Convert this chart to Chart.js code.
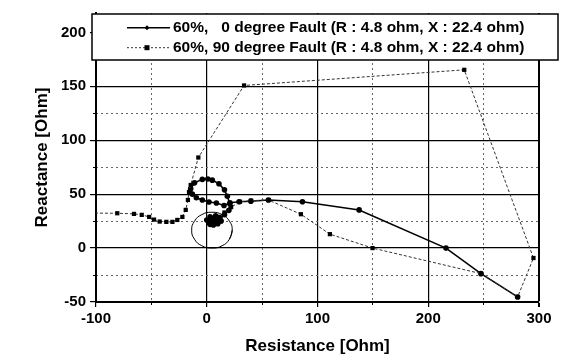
<!DOCTYPE html>
<html>
<head>
<meta charset="utf-8">
<script src="https://cdn.jsdelivr.net/npm/chart.js@4.4.1/dist/chart.umd.min.js"></script>
<style>
  body { margin: 0; background: #fff; }
  #wrap { width: 563px; height: 359px; }
</style>
</head>
<body>
<div id="wrap"><canvas id="myChart" width="563" height="359"></canvas></div>
<script>
// impedance trajectories (R, X in ohm)
var fault0Deg = [
  {x: 280.7, y: -45.3}, {x: 247.6, y: -23.7}, {x: 216, y: 0}, {x: 137.6, y: 35.4},
  {x: 86.4, y: 43}, {x: 55.7, y: 44.6}, {x: 39.8, y: 43.5}, {x: 29.2, y: 43},
  {x: 21, y: 42}, {x: 15.6, y: 39.5}, {x: 8.7, y: 41.8}, {x: 2, y: 42.8},
  {x: -4, y: 44.6}, {x: -9.4, y: 46.7}, {x: -13, y: 50}, {x: -14.5, y: 55},
  {x: -11, y: 60.5}, {x: -4, y: 63.7}, {x: 1, y: 64}, {x: 5, y: 63},
  {x: 11, y: 59.7}, {x: 16, y: 54}, {x: 18.6, y: 48}, {x: 20.8, y: 41},
  {x: 20, y: 35}, {x: 16, y: 31}, {x: 11, y: 28}, {x: 7, y: 26},
  {x: 3, y: 22}, {x: 6, y: 21.5}, {x: 10, y: 22.5}, {x: 13, y: 25},
  {x: 12, y: 28}, {x: 8, y: 30}, {x: 3, y: 29}, {x: 0, y: 26},
  {x: 2, y: 23.5}, {x: 6, y: 24}, {x: 9, y: 26}, {x: 6, y: 27}, {x: 4, y: 26}
];

var fault90Deg = [
  {x: -110, y: 32.5}, {x: -80.8, y: 32.3}, {x: -65.7, y: 31.7}, {x: -58.7, y: 30.8},
  {x: -52, y: 28.9}, {x: -47.6, y: 26.4}, {x: -42.5, y: 24.6}, {x: -36.5, y: 24.3},
  {x: -31, y: 24.3}, {x: -26.6, y: 26.1}, {x: -22, y: 28.9}, {x: -19, y: 35.4},
  {x: -17, y: 44.6}, {x: -16, y: 52}, {x: -14.5, y: 58.5}, {x: -7.6, y: 84},
  {x: 33.7, y: 150.8}, {x: 232.5, y: 165.3}, {x: 295, y: -9.2}, {x: 280.7, y: -45.3},
  {x: 247.6, y: -23.7}, {x: 149.7, y: 0}, {x: 111.2, y: 12.9}, {x: 85, y: 31.4},
  {x: 55.7, y: 44.6}, {x: 40, y: 44}, {x: 30, y: 43}, {x: 22, y: 38},
  {x: 16, y: 33}, {x: 11, y: 29}, {x: 7, y: 27}, {x: 4, y: 25}
];

// relay characteristic circle
var mhoCircle = [
  {x: 20.5, y: 8.3}, {x: 23.0, y: 16.6}, {x: 20.5, y: 24.9}, {x: 13.9, y: 31.0},
  {x: 4.7, y: 33.2}, {x: -4.5, y: 31.0}, {x: -11.1, y: 24.9}, {x: -13.6, y: 16.6},
  {x: -11.1, y: 8.3}, {x: -4.5, y: 2.2}, {x: 4.7, y: 0}, {x: 13.9, y: 2.2},
  {x: 20.5, y: 8.3}, {x: 23.0, y: 16.6}
];

var legendLabels = [
  ['60%,', '0 degree Fault (R : 4.8 ohm, X : 22.4 ohm)'],
  ['60%,', '90 degree Fault (R : 4.8 ohm, X : 22.4 ohm)']
];

var xTitle = 'Resistance [Ohm]';
var yTitle = 'Reactance [Ohm]';

var fontFam = "'Liberation Sans', Arial, sans-serif";
Chart.defaults.font.family = fontFam;
Chart.defaults.font.weight = 'bold';
Chart.defaults.color = '#000';

// legend box drawn over the top of the plot
var boxLegend = {
  id: 'boxLegend',
  afterDraw: function (chart) {
    var c = chart.ctx;
    var a = chart.chartArea;
    var left = a.left - 4, top = a.top + 1, right = 558, bottom = 60;
    c.save();
    c.fillStyle = '#fff';
    c.fillRect(left, top, right - left, bottom - top);
    c.strokeStyle = '#000';
    c.lineWidth = 1.5;
    c.strokeRect(left, top, right - left, bottom - top);

    var rows = [top + 13.7, top + 33.7];
    c.font = 'bold 15.5px ' + fontFam;
    c.textBaseline = 'middle';
    c.fillStyle = '#000';
    for (var i = 0; i < 2; i++) {
      var y = rows[i];
      c.strokeStyle = i === 0 ? '#000' : '#333';
      c.lineWidth = i === 0 ? 1.6 : 1;
      c.setLineDash(i === 0 ? [] : [2, 2]);
      c.beginPath();
      c.moveTo(127, y);
      c.lineTo(170, y);
      c.stroke();
      c.setLineDash([]);
      if (i === 0) {
        c.beginPath();
        c.moveTo(147, y - 2.5); c.lineTo(149.5, y); c.lineTo(147, y + 2.5); c.lineTo(144.5, y);
        c.closePath();
        c.fill();
      } else {
        c.fillRect(144.5, y - 2.5, 5, 5);
      }
      var tx = 173;
      c.fillText(legendLabels[i][0], tx, y);
      c.fillText(legendLabels[i][1], tx + c.measureText('60%, ' + (i === 0 ? '9' : '')).width, y);
    }
    c.restore();
  }
};

var tickFont = {size: 15, family: fontFam, weight: 'bold'};
var titleFont = {size: 17, family: fontFam, weight: 'bold'};

var ctx = document.getElementById('myChart');
var myChart = new Chart(ctx, {
  type: 'scatter',
  data: {
    datasets: [
      {
        label: 'circle',
        data: mhoCircle,
        xAxisID: 'x', yAxisID: 'y',
        showLine: true,
        borderColor: '#000',
        borderWidth: 1,
        pointRadius: 0,
        tension: 0.5
      },
      {
        label: legendLabels[1].join(' '),
        data: fault90Deg,
        xAxisID: 'x', yAxisID: 'y',
        showLine: true,
        borderColor: '#333',
        borderWidth: 1,
        borderDash: [3, 2],
        pointStyle: 'rect',
        pointRadius: function (c) { return c.raw && c.raw.x <= -100 ? 0 : 3; },
        pointBackgroundColor: '#000',
        pointBorderColor: '#000',
        pointBorderWidth: 0
      },
      {
        label: legendLabels[0].join(' '),
        data: fault0Deg,
        xAxisID: 'x', yAxisID: 'y',
        showLine: true,
        borderColor: '#000',
        borderWidth: 1.6,
        pointStyle: 'circle',
        pointRadius: 2.8,
        pointBackgroundColor: '#000',
        pointBorderColor: '#000',
        pointBorderWidth: 0
      }
    ]
  },
  options: {
    responsive: false,
    animation: false,
    layout: {padding: {top: 12, right: 24, left: 0, bottom: 0}},
    plugins: {
      legend: {display: false},
      tooltip: {enabled: false}
    },
    scales: {
      x: {
        type: 'linear', position: 'bottom', weight: 0,
        min: -100, max: 300,
        ticks: {stepSize: 100, font: tickFont, color: '#000', padding: 3},
        grid: {
          color: '#000',
          lineWidth: function (c) { return c.tick && c.tick.value === 300 ? 2 : 1.2; },
          tickLength: 5, tickColor: '#000'
        },
        border: {color: '#000', width: 2},
        title: {display: true, text: xTitle, color: '#000', font: titleFont, padding: {top: 0, bottom: 2}},
        afterFit: function (s) { s.height = 57; }
      },
      x2: {
        type: 'linear', position: 'bottom', weight: -1,
        min: -100, max: 300,
        ticks: {display: false, stepSize: 50},
        grid: {
          color: function (c) { return c.tick && c.tick.value % 100 === 0 ? 'rgba(0,0,0,0)' : '#666'; },
          tickColor: function (c) { return c.tick && c.tick.value % 100 === 0 ? 'rgba(0,0,0,0)' : '#000'; },
          tickLength: 3
        },
        border: {display: false, dash: [2, 3]},
        afterFit: function (s) { s.height = 0; }
      },
      y: {
        type: 'linear', position: 'left', weight: 0,
        min: -50, max: 218,
        ticks: {stepSize: 50, includeBounds: false, font: tickFont, color: '#000', padding: 4},
        grid: {color: '#000', lineWidth: 1.2, tickLength: 6, tickColor: '#000'},
        border: {color: '#000', width: 2},
        title: {display: true, text: yTitle, color: '#000', font: titleFont, padding: {top: 32, bottom: 0}},
        afterFit: function (s) { s.width = 96; }
      },
      y2: {
        type: 'linear', position: 'left', weight: -1,
        min: -50, max: 218,
        ticks: {display: false, stepSize: 25, includeBounds: false},
        grid: {
          color: function (c) { return c.tick && c.tick.value % 50 === 0 ? 'rgba(0,0,0,0)' : '#666'; },
          tickColor: function (c) { return c.tick && c.tick.value % 50 === 0 ? 'rgba(0,0,0,0)' : '#000'; },
          tickLength: 3
        },
        border: {display: false, dash: [2, 3]},
        afterFit: function (s) { s.width = 0; }
      }
    }
  },
  plugins: [boxLegend]
});
</script>
</body>
</html>
